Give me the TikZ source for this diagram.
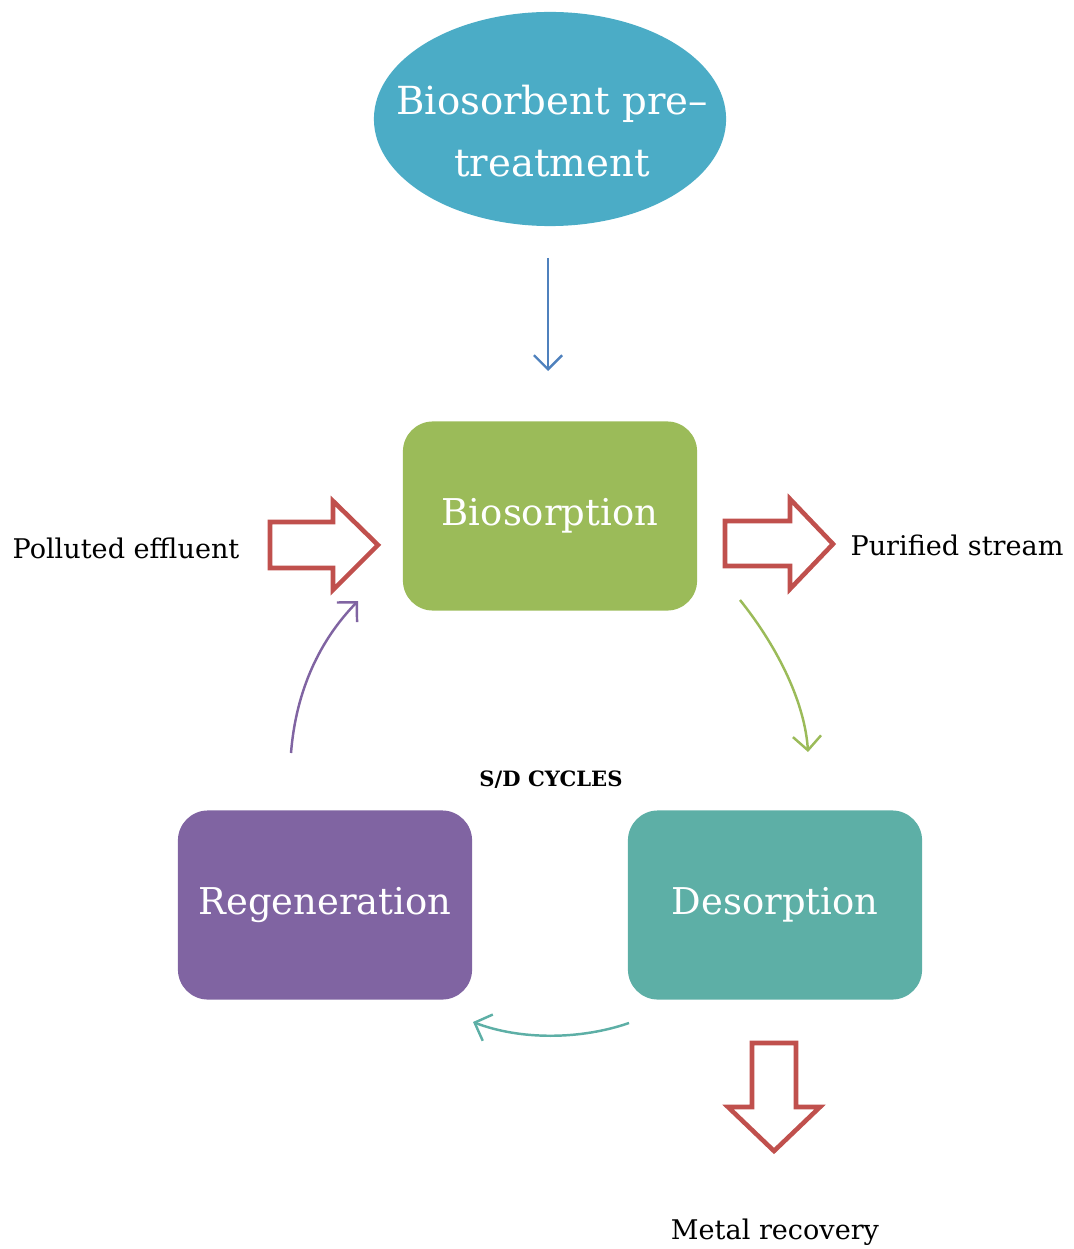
\documentclass[tikz,border=0pt]{standalone}
\usepackage{fontspec}
\setmainfont{DejaVu Serif}
\usetikzlibrary{arrows.meta,shapes.geometric}

\definecolor{skyblue}{HTML}{4BACC6}
\definecolor{leafgreen}{HTML}{9BBB59}
\definecolor{lilac}{HTML}{8064A2}
\definecolor{seateal}{HTML}{5DAFA6}
\definecolor{brickred}{HTML}{C0504D}
\definecolor{lineblue}{HTML}{4F81BD}

\tikzset{
  stage/.style={rounded corners=0.3cm, minimum width=2.94cm, minimum height=1.89cm,
    text=white, font=\fontsize{10.5}{13}\selectfont},
  fat/.style={draw=brickred, line width=1.3pt, fill=white, line join=miter},
  flow/.style={line width=0.7pt, -{Straight Barb[length=4pt,width=8pt]}},
  label/.style={font=\fontsize{7.7}{9}\selectfont}
}

\begin{document}
\begin{tikzpicture}[x=0.01cm,y=-0.01cm]
  \useasboundingbox (0,0) rectangle (1073,1249);

  \node[ellipse, fill=skyblue, minimum width=3.52cm, minimum height=2.14cm,
    inner sep=0pt] (pre) at (550,119) {};
  \node[text=white, align=center, font=\fontsize{11}{17.6}\selectfont]
    (pretext) at (552,131) {Biosorbent pre–\\treatment};

  \node[stage, fill=leafgreen] (bio) at (550,516) {Biosorption};
  \node[stage, fill=lilac] (regen) at (325,905) {Regeneration};
  \node[stage, fill=seateal] (desorp) at (775,905) {Desorption};

  \coordinate (prearr) at (548,258);
  \coordinate (bioarr) at (548,371);
  \draw[flow, lineblue] (prearr) -- (bioarr);

  % fat arrows
  \draw[fat] (270,522) -- (333,522) -- (333,501) -- (378,545) -- (333,590)
    -- (333,568) -- (270,568) -- cycle;
  \draw[fat] (725,521) -- (790,521) -- (790,499) -- (833,544) -- (790,589)
    -- (790,566) -- (725,566) -- cycle;
  \draw[fat] (752,1043) -- (796,1043) -- (796,1107) -- (820,1107) -- (774,1151)
    -- (728,1107) -- (752,1107) -- cycle;

  \node[label] (polluted) at (126,548) {Polluted effluent};
  \node[label] (purified) at (957,545) {Purified stream};
  \node[label] (metal) at (775,1232) {Metal recovery};
  \node[label, font=\bfseries\fontsize{6.0}{8}\selectfont] (cycles) at (551,780) {S/D CYCLES};

  % cycle arrows
  \coordinate (g1) at (740,600);
  \coordinate (g2) at (808,752);
  \draw[flow, leafgreen] (g1) .. controls (780,650) and (805,705) .. (g2);
  \coordinate (t1) at (629,1023);
  \coordinate (t2) at (473,1022);
  \draw[flow, seateal] (t1) .. controls (580,1040) and (520,1040) .. (t2);
  \coordinate (p1) at (291,753);
  \coordinate (p2) at (358,601);
  \draw[flow, lilac] (p1) .. controls (296,690) and (320,640) .. (p2);
\end{tikzpicture}
\end{document}
